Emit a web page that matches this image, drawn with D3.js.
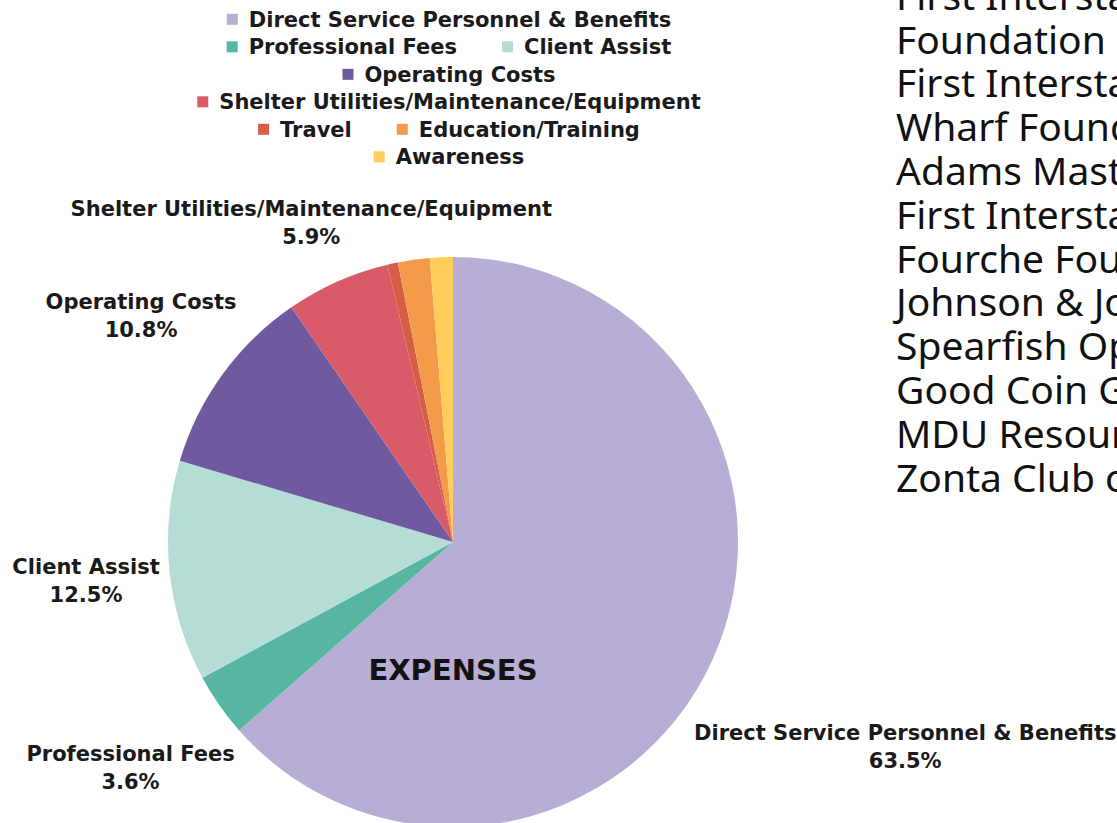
<!DOCTYPE html>
<html>
<head>
<meta charset="utf-8">
<title>Expenses</title>
<style>
  body { margin: 0; background: #fff; overflow: hidden; }
  svg { display: block; }
</style>
</head>
<body>
<div class="plot_container"></div>
<script src="https://cdn.jsdelivr.net/npm/d3@7"></script>
<script>
// data
var categories = [
  "Direct Service Personnel & Benefits",
  "Professional Fees",
  "Client Assist",
  "Operating Costs",
  "Shelter Utilities/Maintenance/Equipment",
  "Travel",
  "Education/Training",
  "Awareness"
];
var values = [63.5, 3.6, 12.5, 10.8, 5.9, 0.6, 1.8, 1.3];
var colors = ["#b8aed5", "#57b6a2", "#b5ddd6", "#6f5aa0", "#d95b69", "#d45f44", "#f39a4b", "#fecd5a"];
// slices that get an outside label
var labelled = ["Direct Service Personnel & Benefits", "Professional Fees", "Client Assist",
                "Operating Costs", "Shelter Utilities/Maintenance/Equipment"];
var funders = [
  "First Interstate BancSystem",
  "Foundation",
  "First Interstate Bank",
  "Wharf Foundation",
  "Adams Mastrovich Family Foundation",
  "First Interstate Bank",
  "Fourche Foundation",
  "Johnson & Johnson",
  "Spearfish Optimist Club",
  "Good Coin Giving",
  "MDU Resources Foundation",
  "Zonta Club of the Black Hills"
];

var width = 1117;
var height = 823;
var cx = 453, cy = 542, radius = 285;
var boldFont = "'DejaVu Sans', sans-serif";
var ink = "#1a1a1a";

var svg = d3.select(".plot_container").append("svg")
    .attr("width", width)
    .attr("height", height);

// ---- legend (centred rows that wrap) ----
var legendCx = 449, legendTop = 19.3, rowStep = 27.5, maxRow = 535;
var markerSize = 11, markerGap = 11, itemGap = 45;

var legend = svg.append("g").attr("class", "legend");
var items = legend.selectAll(".item")
    .data(categories)
    .enter()
    .append("g")
    .attr("class", "item");

items.append("rect")
    .attr("width", markerSize)
    .attr("height", markerSize)
    .attr("y", -markerSize / 2)
    .style("fill", function(d, i){ return colors[i]; });

items.append("text")
    .attr("x", markerSize + markerGap)
    .attr("dy", "0.36em")
    .style("font-family", boldFont)
    .style("font-weight", "bold")
    .style("font-size", "21px")
    .style("fill", ink)
    .text(function(d){ return d; });

var rows = [];
var current = [];
var currentW = 0;
items.each(function(d){
  var w = markerSize + markerGap + d3.select(this).select("text").node().getComputedTextLength();
  var add = current.length ? itemGap + w : w;
  if(current.length && currentW + add > maxRow){
    rows.push({items: current, w: currentW});
    current = [];
    currentW = 0;
    add = w;
  }
  current.push({node: this, w: w});
  currentW += add;
});
rows.push({items: current, w: currentW});

rows.forEach(function(row, r){
  var x = legendCx - row.w / 2;
  row.items.forEach(function(it){
    d3.select(it.node).attr("transform", "translate(" + x + "," + (legendTop + r * rowStep) + ")");
    x += it.w + itemGap;
  });
});

var plotTop = legendTop + (rows.length - 1) * rowStep + 40;

// ---- pie ----
var pie = d3.pie().sort(null).value(function(d){ return d; });
var arcs = pie(values);
var arc = d3.arc().innerRadius(0).outerRadius(radius);

var g = svg.append("g").attr("transform", "translate(" + cx + "," + cy + ")");

g.selectAll(".slice")
    .data(arcs)
    .enter()
    .append("path")
    .attr("class", "slice")
    .attr("d", arc)
    .style("fill", function(d, i){ return colors[i]; });

g.append("text")
    .attr("x", 0)
    .attr("y", 128)
    .attr("dy", "0.36em")
    .attr("text-anchor", "middle")
    .style("font-family", boldFont)
    .style("font-weight", "bold")
    .style("font-size", "29px")
    .style("fill", "#111")
    .text("EXPENSES");

// ---- outside labels, pushed out along the mid angle ----
var labelData = arcs.filter(function(d, i){ return labelled.indexOf(categories[i]) >= 0; });
var lineGap = 28, pad = 8;

var labels = g.selectAll(".label")
    .data(labelData)
    .enter()
    .append("g")
    .attr("class", "label");

labels.append("text")
    .attr("text-anchor", "middle")
    .attr("y", -lineGap / 2)
    .attr("dy", "0.36em")
    .style("font-family", boldFont)
    .style("font-weight", "bold")
    .style("font-size", "21px")
    .style("fill", ink)
    .text(function(d){ return categories[d.index]; });

labels.append("text")
    .attr("text-anchor", "middle")
    .attr("y", lineGap / 2)
    .attr("dy", "0.36em")
    .style("font-family", boldFont)
    .style("font-weight", "bold")
    .style("font-size", "21px")
    .style("fill", ink)
    .text(function(d){ return d3.format(".1f")(d.data) + "%"; });

labels.attr("transform", function(d){
  var bb = this.getBBox();
  var mid = (d.startAngle + d.endAngle) / 2;
  var sx = Math.sin(mid), sy = -Math.cos(mid);
  var dist = radius + pad + Math.abs(sx) * bb.width / 2 + Math.abs(sy) * bb.height / 2;
  if(sy < 0){
    var limit = (cy - bb.height / 2 - plotTop) / -sy;
    dist = Math.min(dist, limit);
  }
  return "translate(" + (sx * dist) + "," + (sy * dist) + ")";
});

// ---- funder list on the right (runs off the page) ----
svg.append("g")
    .selectAll("text")
    .data(funders)
    .enter()
    .append("text")
    .attr("x", 896)
    .attr("y", function(d, i){ return 9.8 + i * 43.8; })
    .style("font-family", "'Noto Sans', sans-serif")
    .style("font-size", "39px")
    .style("fill", "#111")
    .text(function(d){ return d; });
</script>
</body>
</html>
